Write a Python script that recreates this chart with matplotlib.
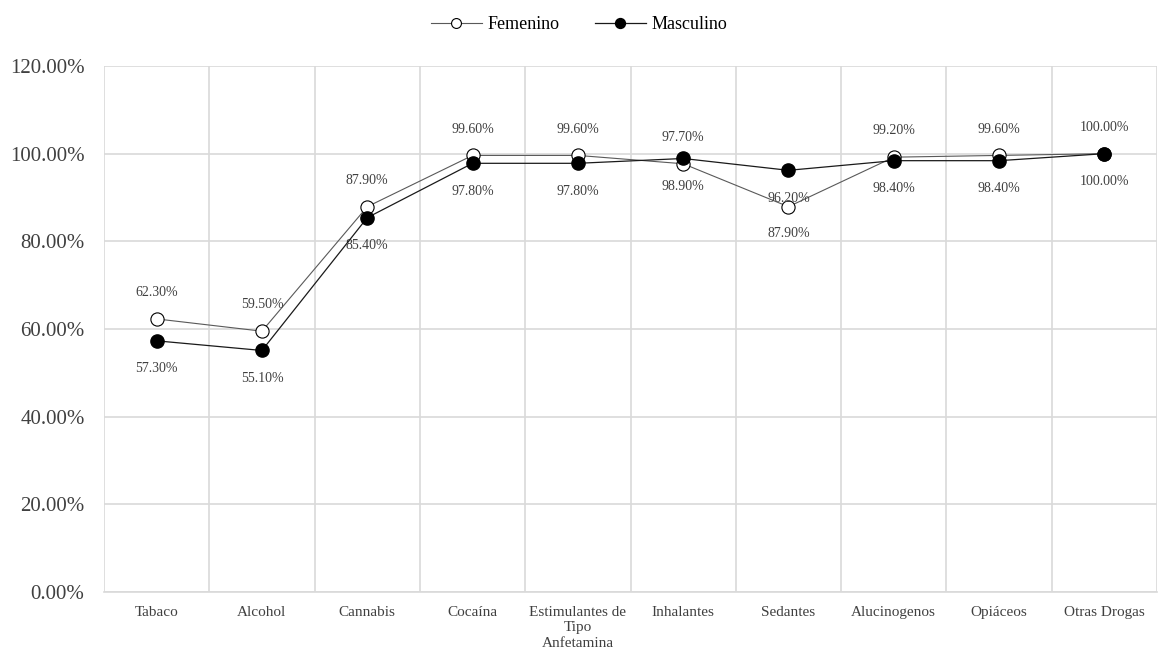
import numpy as np
import matplotlib.pyplot as plt

categorias = ["Tabaco", "Alcohol", "Cannabis", "Cocaína", "Estimulantes de\nTipo\nAnfetamina",
              "Inhalantes", "Sedantes", "Alucinogenos", "Opiáceos", "Otras Drogas"]
femenino = [62.3, 59.5, 87.9, 99.6, 99.6, 97.7, 87.9, 99.2, 99.6, 100.0]
masculino = [57.3, 55.1, 85.4, 97.8, 97.8, 98.9, 96.2, 98.4, 98.4, 100.0]
# lado de la etiqueta de Femenino (como en el original)
fem_arriba = [True, True, True, True, True, True, False, True, True, True]

plt.rcParams['font.family'] = ['Liberation Serif', 'DejaVu Serif']

fig = plt.figure(figsize=(11.58, 6.56), dpi=100)
ax = fig.add_axes([104 / 1158, 1 - 592 / 656, 1053 / 1158, 526 / 656])

x = np.arange(len(categorias))
ax.plot(x, femenino, color='#595959', lw=0.8, marker='o', ms=9.5,
        mfc='white', mec='black', mew=0.8, label='Femenino', zorder=3)
ax.plot(x, masculino, color='#1a1a1a', lw=0.9, marker='o', ms=9.5,
        mfc='black', mec='black', label='Masculino', zorder=4)

for i in range(len(x)):
    df = 19 if fem_arriba[i] else -19
    ax.annotate(f"{femenino[i]:.2f}%", (x[i], femenino[i]), xytext=(0, df),
                textcoords='offset points', ha='center', va='center',
                fontsize=10, color='#404040')
    ax.annotate(f"{masculino[i]:.2f}%", (x[i], masculino[i]), xytext=(0, -20),
                textcoords='offset points', ha='center', va='center',
                fontsize=10, color='#404040')

ax.set_xlim(-0.5, len(x) - 0.5)
ax.set_ylim(0, 120)
ax.set_yticks(np.arange(0, 121, 20))
ax.set_yticklabels([f"{v:.2f}%" for v in np.arange(0, 121, 20)])
ax.set_xticks(x)
ax.set_xticklabels(categorias, fontsize=11, color='#404040', linespacing=1.26)
ax.tick_params(axis='y', labelsize=15, labelcolor='#404040', length=0, pad=14)
ax.tick_params(axis='x', length=0, pad=10)
ax.set_xticks(np.arange(-0.5, len(x)), minor=True)
ax.tick_params(axis='x', which='minor', length=0)
ax.grid(True, axis='y', color='#d9d9d9', lw=1.2)
ax.grid(True, axis='x', which='minor', color='#d9d9d9', lw=1.2)
for s in ax.spines.values():
    s.set_visible(False)
ax.spines['bottom'].set_visible(True)
ax.spines['bottom'].set_color('#d9d9d9')
ax.spines['bottom'].set_linewidth(1.2)

fig.legend(loc='upper center', bbox_to_anchor=(0.5, 1.0), ncol=2, frameon=False,
           fontsize=13, handlelength=2.8, columnspacing=2.0, handletextpad=0.3,
           markerscale=0.75)

fig.savefig('out.png', dpi=100)
